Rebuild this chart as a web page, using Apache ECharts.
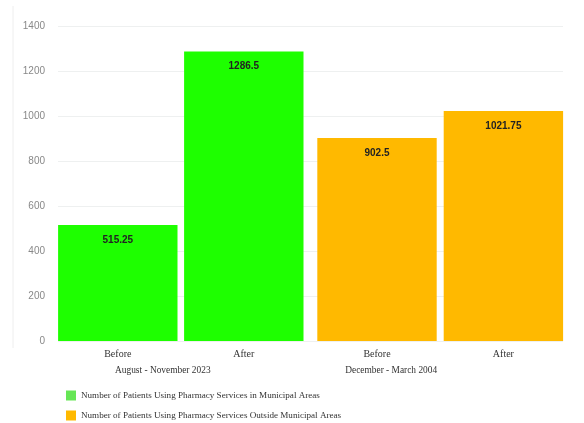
<!DOCTYPE html>
<html>
<head>
<meta charset="utf-8">
<script src="https://cdn.jsdelivr.net/npm/echarts@6/dist/echarts.min.js"></script>
<style>html,body{margin:0;padding:0;background:#fff}#c{width:584px;height:423px}</style>
</head>
<body>
<div id="c"></div>
<script>
const periods = ['Before', 'After'];
const groups = ['August - November 2023', 'December - March 2004'];
const seriesNames = [
  'Number of Patients Using Pharmacy Services in Municipal Areas',
  'Number of Patients Using Pharmacy Services Outside Municipal Areas'
];
const municipal = [515.25, 1286.5];
const outside = [902.5, 1021.75];
const yMin = 0, yMax = 1400, yStep = 200;

const serif = '"Liberation Serif", "DejaVu Serif", serif';
const sans = '"Liberation Sans", Arial, sans-serif';
const green = '#1eff00', orange = '#ffb900';

const chart = echarts.init(document.getElementById('c'), null, {renderer: 'canvas'});
const catAxis = (gi, name, pad) => ({
  gridIndex: gi, type: 'category', data: periods,
  axisLine: {show: false}, axisTick: {show: false},
  axisLabel: {fontFamily: serif, fontSize: 10, color: '#333', margin: 8},
  name: name, nameLocation: 'middle', nameGap: 25,
  nameTextStyle: {fontFamily: serif, fontSize: 9.4, color: '#333', padding: [0, pad, 0, 0]}
});
const hiddenY = gi => ({gridIndex: gi, type: 'value', min: yMin, max: yMax, interval: yStep, show: false});
const lbl = {show: true, position: 'insideTop', distance: 10, fontFamily: sans, fontSize: 10, fontWeight: 'bold', color: '#222'};

chart.setOption({
  animation: false,
  grid: [
    {left: 58, right: 21, top: 26, bottom: 82},
    {left: 54.8, width: 252, top: 26, bottom: 82},
    {left: 313.8, width: 252.8, top: 26, bottom: 82}
  ],
  xAxis: [
    {gridIndex: 0, type: 'category', data: periods, show: false},
    catAxis(1, groups[0], 36),
    catAxis(2, groups[1], 98)
  ],
  yAxis: [
    {gridIndex: 0, type: 'value', min: yMin, max: yMax, interval: yStep,
     axisLine: {show: false}, axisTick: {show: false},
     axisLabel: {fontFamily: sans, fontSize: 10, color: '#888', margin: 13, formatter: v => String(v)},
     splitLine: {lineStyle: {color: '#eef0f0', width: 1}}},
    hiddenY(1), hiddenY(2)
  ],
  legend: {
    orient: 'vertical', left: 66, top: 390.5, padding: 0, itemWidth: 10, itemHeight: 10, itemGap: 10,
    icon: 'rect',
    textStyle: {fontFamily: serif, fontSize: 9.1, color: '#333'},
    data: [
      {name: seriesNames[0], itemStyle: {color: '#66e655'}},
      {name: seriesNames[1], itemStyle: {color: orange}}
    ]
  },
  graphic: [{type: 'line', shape: {x1: 13, y1: 6, x2: 13, y2: 348}, style: {stroke: '#eeeeee', lineWidth: 1}}],
  series: [
    {name: seriesNames[0], type: 'bar', xAxisIndex: 1, yAxisIndex: 1, barWidth: 119.4,
     data: municipal, itemStyle: {color: green}, label: lbl},
    {name: seriesNames[1], type: 'bar', xAxisIndex: 2, yAxisIndex: 2, barWidth: 119.4,
     data: outside, itemStyle: {color: orange}, label: lbl}
  ]
});
</script>
</body>
</html>
